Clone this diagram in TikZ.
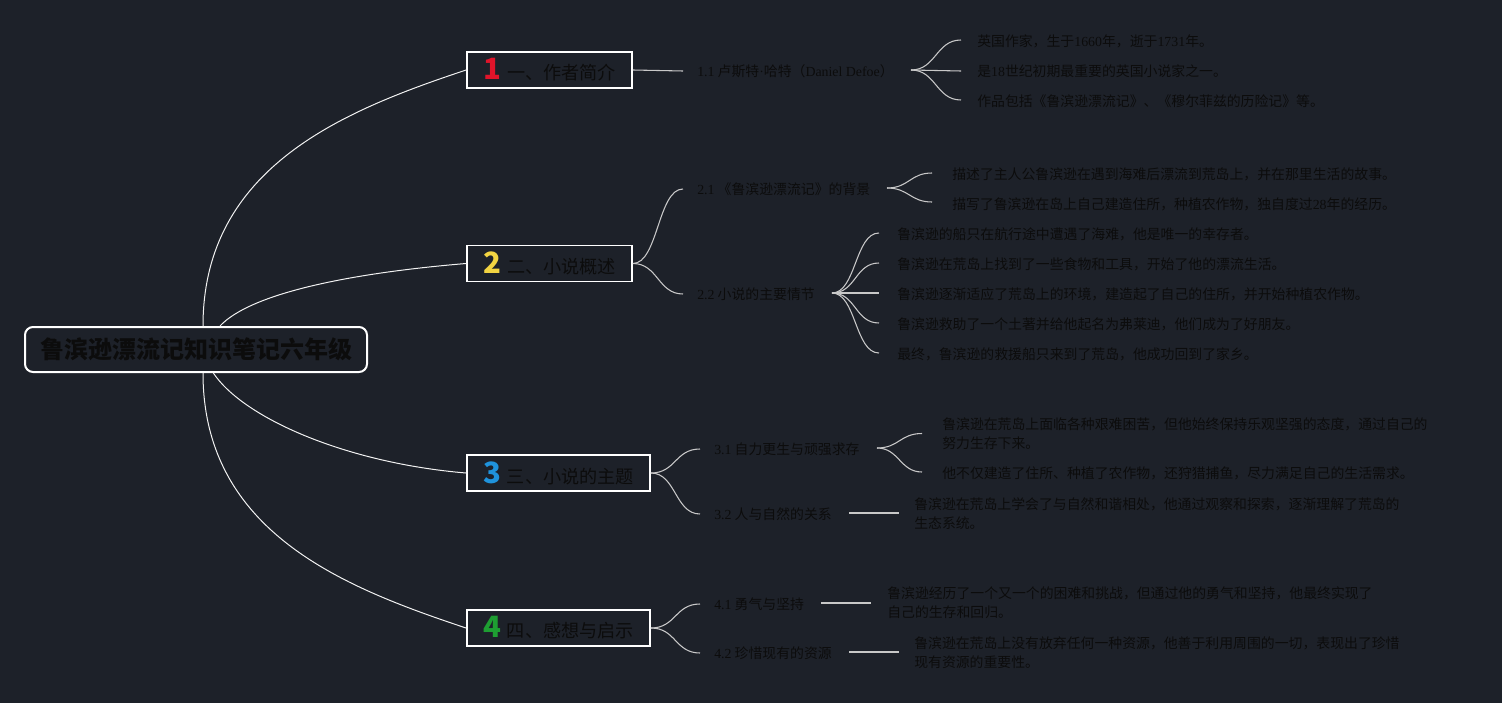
\documentclass[tikz,border=0pt]{standalone}
\usepackage{fontspec}
\setmainfont{Noto Sans CJK SC}
\newfontfamily\latn{Liberation Serif}
\newcommand\lt[1]{{\latn #1}}
\definecolor{bgc}{HTML}{1D2129}
\definecolor{txt}{HTML}{0C0C0C}
\definecolor{c1}{HTML}{E0142A}
\definecolor{c2}{HTML}{F2D442}
\definecolor{c3}{HTML}{1F93DC}
\definecolor{c4}{HTML}{1E9E32}
\definecolor{lnc}{HTML}{C8C8C8}
\tikzset{
  rootbox/.style={draw=white, line width=1.5pt, rounded corners=6pt, fill=bgc, text=txt,
    font=\fontsize{18}{22}\selectfont\bfseries, minimum width=256.5pt, minimum height=33.75pt, inner sep=0pt},
  branchbox/.style={draw=white, line width=1.4pt, fill=bgc, text=txt,
    font=\fontsize{13.6}{16}\selectfont, minimum height=27pt, inner sep=0pt},
  topic/.style={anchor=west, text=txt, font=\fontsize{10.4}{14}\selectfont, inner xsep=10.5pt, inner ysep=0pt},
  leaf/.style={anchor=west, text=txt, font=\fontsize{10.4}{14.25}\selectfont, inner sep=0pt, align=left},
  rootline/.style={draw=white!90!gray, line width=0.75pt},
  subline/.style={draw=lnc, line width=0.8pt},
}
\newcommand\numb[2]{{\fontsize{22}{22}\selectfont\bfseries\color{#1}#2}\hspace{4.5pt}}
\begin{document}
\begin{tikzpicture}[x=0.75pt,y=-0.75pt]
\fill[bgc] (0,0) rectangle (1502,703);
\useasboundingbox (0,0) rectangle (1502,703);

% root
\node[rootbox] (root) at (196,349.5) {鲁滨逊漂流记知识笔记六年级};

% branches
\node[branchbox, minimum width=123.75pt] (b1) at (549.5,70) {\numb{c1}{1}一、作者简介};
\node[branchbox, minimum width=123.75pt] (b2) at (549.5,263.5) {\numb{c2}{2}二、小说概述};
\node[branchbox, minimum width=137.25pt] (b3) at (558.5,473) {\numb{c3}{3}三、小说的主题};
\node[branchbox, minimum width=137.25pt] (b4) at (558.5,628) {\numb{c4}{4}四、感想与启示};

\draw[rootline] ([xshift=5.25pt]root.north) .. controls +(0,-160) and +(-120,40) .. (b1.west);
\draw[rootline] ([xshift=18pt]root.north) .. controls +(30,-32) and +(-120,10) .. (b2.west);
\draw[rootline] ([xshift=13pt]root.south) .. controls +(30,45) and +(-120,-10) .. (b3.west);
\draw[rootline] ([xshift=5.25pt]root.south) .. controls +(0,160) and +(-120,-40) .. (b4.west);

% topics
\node[topic] (t11) at (683,71) {\lt{1.1} 卢斯特\lt{·}哈特（\lt{Daniel Defoe}）};
\node[topic] (t21) at (683,189) {\lt{2.1} 《鲁滨逊漂流记》的背景};
\node[topic] (t22) at (683,294) {\lt{2.2} 小说的主要情节};
\node[topic] (t31) at (700,449) {\lt{3.1} 自力更生与顽强求存};
\node[topic] (t32) at (700,514) {\lt{3.2} 人与自然的关系};
\node[topic] (t41) at (700,604) {\lt{4.1} 勇气与坚持};
\node[topic] (t42) at (700,653) {\lt{4.2} 珍惜现有的资源};

\draw[subline] (b1.east) -- (t11.west);
\draw[subline] (b2.east) .. controls +(25,0) and +(-25,0) .. (t21.west);
\draw[subline] (b2.east) .. controls +(25,0) and +(-25,0) .. (t22.west);
\draw[subline] (b3.east) .. controls +(25,0) and +(-25,0) .. (t31.west);
\draw[subline] (b3.east) .. controls +(25,0) and +(-25,0) .. (t32.west);
\draw[subline] (b4.east) .. controls +(25,0) and +(-25,0) .. (t41.west);
\draw[subline] (b4.east) .. controls +(25,0) and +(-25,0) .. (t42.west);

% leaves
\node[leaf] (l11a) at (977,41) {英国作家，生于\lt{1660}年，逝于\lt{1731}年。};
\node[leaf] (l11b) at (977,71) {是\lt{18}世纪初期最重要的英国小说家之一。};
\node[leaf] (l11c) at (977,101) {作品包括《鲁滨逊漂流记》、《穆尔菲兹的历险记》等。};

\node[leaf] (l21a) at (952,174) {描述了主人公鲁滨逊在遇到海难后漂流到荒岛上，并在那里生活的故事。};
\node[leaf] (l21b) at (952,204) {描写了鲁滨逊在岛上自己建造住所，种植农作物，独自度过\lt{28}年的经历。};

\node[leaf] (l22a) at (897,234) {鲁滨逊的船只在航行途中遭遇了海难，他是唯一的幸存者。};
\node[leaf] (l22b) at (897,264) {鲁滨逊在荒岛上找到了一些食物和工具，开始了他的漂流生活。};
\node[leaf] (l22c) at (897,294) {鲁滨逊逐渐适应了荒岛上的环境，建造起了自己的住所，并开始种植农作物。};
\node[leaf] (l22d) at (897,324) {鲁滨逊救助了一个土著并给他起名为弗莱迪，他们成为了好朋友。};
\node[leaf] (l22e) at (897,354) {最终，鲁滨逊的救援船只来到了荒岛，他成功回到了家乡。};

\node[leaf] (l31a) at (942,433.5) {鲁滨逊在荒岛上面临各种艰难困苦，但他始终保持乐观坚强的态度，通过自己的\\努力生存下来。};
\node[leaf] (l31b) at (942,473) {他不仅建造了住所、种植了农作物，还狩猎捕鱼，尽力满足自己的生活需求。};
\node[leaf] (l32) at (914,513.5) {鲁滨逊在荒岛上学会了与自然和谐相处，他通过观察和探索，逐渐理解了荒岛的\\生态系统。};
\node[leaf] (l41) at (887,603) {鲁滨逊经历了一个又一个的困难和挑战，但通过他的勇气和坚持，他最终实现了\\自己的生存和回归。};
\node[leaf] (l42) at (914,653) {鲁滨逊在荒岛上没有放弃任何一种资源，他善于利用周围的一切，表现出了珍惜\\现有资源的重要性。};

% fan origins
\coordinate (o11) at (911,70);
\coordinate (o21) at (887,188);
\coordinate (o22) at (832,293);
\coordinate (o31) at (877,448);
\coordinate (o32) at (849,513);
\coordinate (o41) at (821,603);
\coordinate (o42) at (849,652);

\draw[subline] (o11) .. controls +(25,0) and +(-25,0) .. ([xshift=-12pt,yshift=0.75pt]l11a.west);
\draw[subline] (o11) -- ([xshift=-12pt]l11b.west);
\draw[subline] (o11) .. controls +(25,0) and +(-25,0) .. ([xshift=-12pt,yshift=0.75pt]l11c.west);

\draw[subline] (o21) .. controls +(22,0) and +(-22,0) .. ([xshift=-15pt,yshift=0.75pt]l21a.west);
\draw[subline] (o21) .. controls +(22,0) and +(-22,0) .. ([xshift=-15pt,yshift=1.5pt]l21b.west);

\draw[subline] (o22) .. controls +(24,0) and +(-24,0) .. ([xshift=-13.5pt,yshift=0.75pt]l22a.west);
\draw[subline] (o22) .. controls +(24,0) and +(-24,0) .. ([xshift=-13.5pt,yshift=0.75pt]l22b.west);
\draw[subline] (o22) -- ([xshift=-13.5pt,yshift=0.75pt]l22c.west);
\draw[subline] (o22) .. controls +(24,0) and +(-24,0) .. ([xshift=-13.5pt,yshift=0.75pt]l22d.west);
\draw[subline] (o22) .. controls +(24,0) and +(-24,0) .. ([xshift=-13.5pt,yshift=0.75pt]l22e.west);

\draw[subline] (o31) .. controls +(22,0) and +(-22,0) .. ([xshift=-15pt]l31a.west);
\draw[subline] (o31) .. controls +(22,0) and +(-22,0) .. ([xshift=-15pt,yshift=0.75pt]l31b.west);

\draw[subline] (o32) -- ([xshift=-11.25pt]o32 -| l32.west);
\draw[subline] (o41) -- ([xshift=-12pt]o41 -| l41.west);
\draw[subline] (o42) -- ([xshift=-11.25pt]o42 -| l42.west);
\end{tikzpicture}
\end{document}
